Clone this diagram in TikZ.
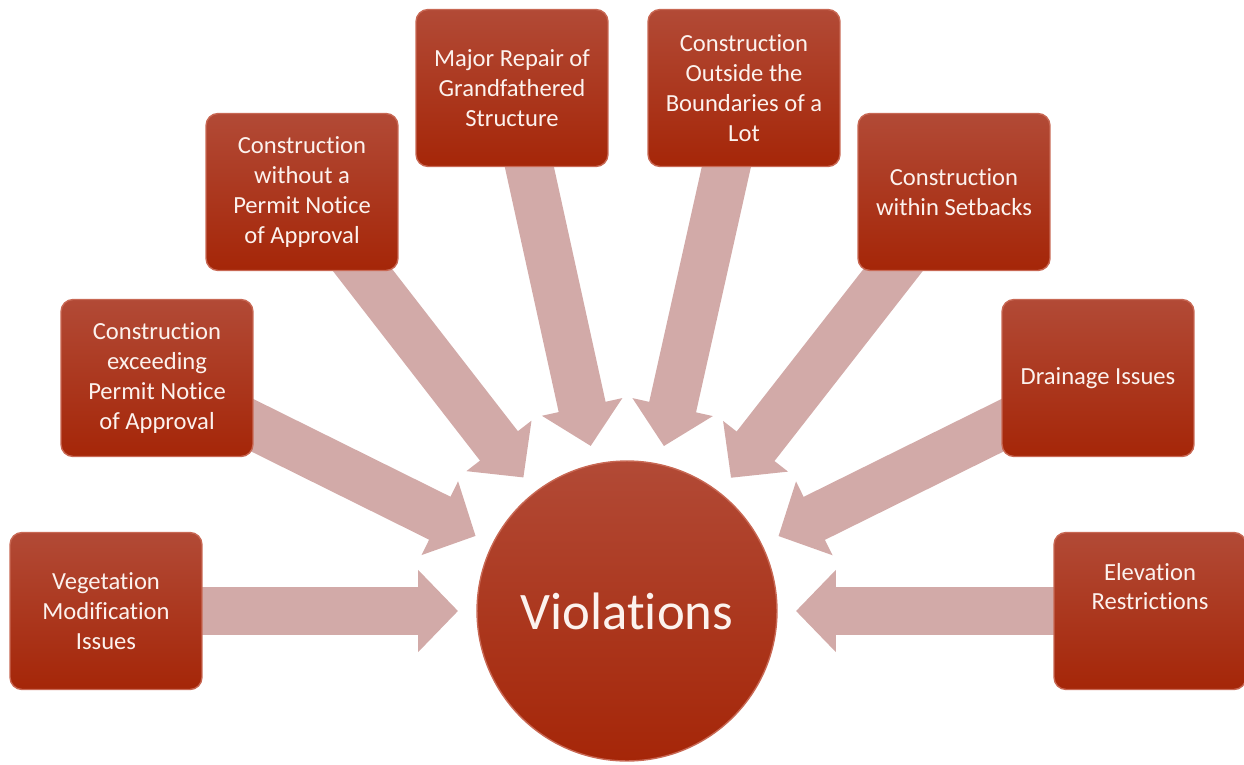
\documentclass[tikz,border=0pt]{standalone}
\usepackage{fontspec}
\setmainfont{Carlito}[Ligatures=NoCommon]
\usetikzlibrary{arrows.meta,backgrounds,calc}
\definecolor{boxtop}{RGB}{178,74,54}
\definecolor{boxbot}{RGB}{165,38,8}
\definecolor{boxrim}{RGB}{200,104,84}
\definecolor{arrowfill}{RGB}{210,170,168}
\definecolor{textcol}{RGB}{252,242,238}

\begin{document}
\begin{tikzpicture}[x=0.02cm,y=-0.02cm,
        issue/.style={rectangle,rounded corners=0.24cm,minimum width=3.84cm,minimum height=3.14cm,
          top color=boxtop,bottom color=boxbot,draw=boxrim,thick,text=textcol,align=center,
          font=\fontsize{14}{17}\selectfont,inner sep=2pt},
        hub/.style={circle,minimum size=6cm,top color=boxtop,bottom color=boxbot,draw=boxrim,thick,
          text=textcol,font=\fontsize{30}{36}\selectfont},
        feed/.style={arrowfill,line width=0.96cm,-{Triangle[width=1.6cm,length=0.8cm]}}]
  \useasboundingbox (0,0) rectangle (1244,764);
  \node[hub]   (viol)     at (627,611) {Violations};
  \node[issue] (veg)      at (106,611) {Vegetation\\Modification\\Issues};
  \node[issue] (exceed)   at (157,378) {Construction\\exceeding\\Permit Notice\\of Approval};
  \node[issue] (nopermit) at (302,192) {Construction\\without a\\Permit Notice\\of Approval};
  \node[issue] (repair)   at (512,88)  {Major Repair of\\Grandfathered\\Structure};
  \node[issue] (outside)  at (744,88)  {Construction\\Outside the\\Boundaries of a\\Lot};
  \node[issue] (setback)  at (954,192) {Construction\\within Setbacks};
  \node[issue] (drain)    at (1098,378) {Drainage Issues};
  \node[issue,text depth=0.98cm] (elev) at (1150,611) {Elevation\\Restrictions};
  \begin{scope}[on background layer]
    \foreach \n in {veg,exceed,nopermit,repair,outside,setback,drain,elev} {
      \coordinate (tip-\n) at ($(viol)!3.38cm!(\n)$);
      \draw[feed] (\n.center) -- (tip-\n);
    }
  \end{scope}
\end{tikzpicture}
\end{document}
